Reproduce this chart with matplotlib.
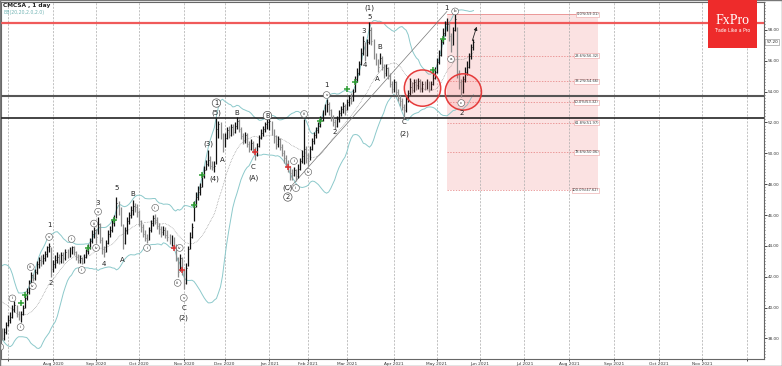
import numpy as np
import pandas as pd
import matplotlib
matplotlib.use("Agg")
import matplotlib.pyplot as plt
from matplotlib.patches import Ellipse, Rectangle
from matplotlib.ticker import MultipleLocator
from matplotlib.transforms import blended_transform_factory

# ---- data (daily bars, CMCSA) ----
first_day = "2020-05-26"
holidays = ["2020-07-03", "2020-09-07", "2020-11-26", "2020-12-25", "2021-01-01",
            "2021-01-18", "2021-02-15", "2021-04-02"]

close = [39.2, 39.5, 39.0, 39.6, 40.1, 40.5, 40.9, 41.6, 42.3, 42.6,
         42.0, 41.4, 39.6, 40.0, 40.3, 40.8, 40.5, 40.2, 39.9, 39.3,
         39.6, 38.9, 38.6, 38.0, 38.4, 38.9, 39.2, 39.4, 39.9, 40.2,
         39.6, 39.3, 39.6, 40.0, 40.6, 41.0, 41.6, 42.1, 41.9, 42.3,
         42.8, 43.1, 43.0, 43.2, 43.5, 43.9, 44.0, 42.5, 42.8, 43.1,
         43.3, 43.0, 43.4, 43.2, 43.6, 43.5, 43.8, 43.9, 43.6, 43.3,
         43.1, 43.2, 42.9, 43.3, 43.7, 43.9, 44.3, 44.8, 45.0, 44.6,
         45.4, 44.4, 43.8, 43.6, 44.2, 44.8, 45.0, 45.5, 45.7, 46.8,
         46.4, 45.6, 44.2, 45.0, 45.6, 46.0, 46.3, 46.6, 46.5, 46.2,
         45.6, 45.2, 44.8, 44.5, 44.4, 45.0, 45.5, 45.8, 45.7, 45.3,
         45.1, 44.9, 45.0, 44.7, 44.6, 44.3, 44.5, 44.0, 43.2, 42.3,
         43.2, 42.4, 41.6, 42.6, 43.8, 44.6, 45.2, 46.5, 47.2, 47.5,
         47.8, 48.5, 48.9, 49.3, 49.6, 49.2, 49.1, 49.2, 51.6, 51.9,
         51.2, 50.5, 51.0, 51.5, 51.2, 51.7, 51.4, 51.8, 52.1, 51.6,
         51.1, 50.8, 51.2, 50.6, 50.3, 50.7, 50.2, 49.9, 50.5, 51.0,
         51.3, 51.6, 51.9, 52.0, 52.1, 51.4, 51.0, 50.6, 50.9, 50.4,
         50.0, 49.7, 49.4, 49.1, 48.7, 48.6, 48.9, 48.5, 49.0, 49.5,
         49.8, 50.3, 49.7, 49.5, 50.3, 50.8, 51.2, 51.5, 51.8, 52.2,
         52.6, 53.0, 53.2, 52.8, 52.3, 52.0, 51.8, 52.2, 52.6, 52.9,
         53.1, 52.8, 53.3, 53.6, 53.4, 54.0, 54.8, 55.2, 55.8, 56.5,
         57.3, 56.4, 57.2, 58.0, 57.3, 56.4, 56.0, 55.6, 56.2, 55.6,
         55.2, 55.5, 55.0, 54.5, 54.2, 54.6, 54.0, 53.6, 53.4, 53.0,
         52.8, 53.5, 53.9, 54.3, 54.1, 54.6, 54.4, 54.7, 54.2, 54.5,
         54.3, 54.6, 54.2, 54.5, 54.9, 55.3, 55.9, 56.4, 57.2, 57.8,
         58.4, 58.4, 57.6, 57.0, 58.0, 58.7, 55.2, 54.6, 54.0, 54.8,
         55.3, 55.6, 56.3, 56.9, 57.2]

high = [39.6, 39.9, 39.7, 39.8, 40.4, 40.8, 41.2, 41.9, 42.6, 42.9,
        42.7, 42.1, 41.0, 40.5, 40.9, 41.1, 41.0, 40.7, 40.4, 40.0,
        39.9, 39.7, 39.1, 38.7, 38.7, 39.1, 39.5, 39.7, 40.2, 40.4,
        40.2, 39.8, 39.8, 40.2, 40.8, 41.3, 41.8, 42.3, 42.2, 42.5,
        43.0, 43.3, 43.4, 43.5, 43.7, 44.0, 44.2, 43.9, 43.1, 43.4,
        43.6, 43.5, 43.6, 43.6, 43.8, 43.8, 43.9, 44.0, 44.0, 43.7,
        43.5, 43.4, 43.3, 43.5, 43.8, 44.1, 44.5, 45.0, 45.2, 45.1,
        45.9, 45.5, 44.6, 44.0, 44.4, 45.0, 45.3, 45.7, 46.0, 47.2,
        46.9, 46.5, 45.4, 45.2, 45.9, 46.2, 46.6, 47.0, 46.8, 46.7,
        46.3, 45.7, 45.4, 45.0, 44.8, 45.2, 45.7, 46.0, 46.1, 45.9,
        45.5, 45.3, 45.3, 45.2, 45.0, 44.8, 44.7, 44.6, 44.1, 43.3,
        43.5, 43.3, 42.5, 42.9, 44.0, 44.9, 45.5, 46.9, 47.5, 47.9,
        48.1, 48.7, 49.2, 49.6, 50.2, 49.8, 49.5, 49.5, 52.3, 52.1,
        52.0, 51.3, 51.3, 51.7, 51.8, 51.9, 51.9, 52.0, 52.35, 52.2,
        51.7, 51.3, 51.4, 51.3, 50.8, 50.9, 50.8, 50.4, 50.7, 51.2,
        51.6, 51.8, 52.0, 52.2, 52.3, 52.1, 51.6, 51.2, 51.1, 51.0,
        50.6, 50.2, 49.9, 49.6, 49.2, 49.0, 49.1, 49.0, 49.3, 49.7,
        50.2, 52.2, 50.5, 50.0, 50.5, 51.0, 51.4, 51.7, 52.0, 52.4,
        52.8, 53.2, 53.5, 53.3, 52.9, 52.5, 52.2, 52.4, 52.8, 53.1,
        53.3, 53.2, 53.5, 53.8, 53.9, 54.2, 55.0, 55.5, 56.0, 56.8,
        57.6, 57.2, 57.4, 58.5, 58.2, 57.4, 56.5, 56.1, 56.5, 56.3,
        55.8, 55.8, 55.6, 55.2, 54.7, 54.8, 54.7, 54.2, 53.8, 53.6,
        53.2, 53.7, 54.1, 54.9, 54.6, 54.8, 54.8, 54.9, 54.8, 54.7,
        54.7, 54.8, 54.7, 54.7, 55.4, 55.6, 56.2, 56.7, 57.4, 58.1,
        58.6, 58.8, 58.5, 57.8, 58.2, 59.01, 58.2, 55.4, 54.8, 55.0,
        55.6, 56.0, 56.5, 57.1, 57.4]

low = [38.8, 39.0, 38.7, 38.9, 39.5, 40.0, 40.4, 40.9, 41.6, 42.0,
       41.8, 41.2, 39.4, 39.3, 39.8, 40.1, 40.2, 39.9, 39.6, 39.1,
       39.0, 38.7, 38.3, 37.9, 37.9, 38.3, 38.8, 39.0, 39.3, 39.7,
       39.4, 39.2, 39.1, 39.5, 40.0, 40.5, 40.9, 41.5, 41.7, 41.8,
       42.2, 42.6, 42.7, 42.8, 43.0, 43.3, 43.6, 42.0, 42.3, 42.6,
       42.9, 42.8, 42.9, 42.9, 43.1, 43.2, 43.3, 43.5, 43.4, 43.1,
       42.9, 42.9, 42.85, 42.9, 43.2, 43.5, 43.8, 44.2, 44.5, 44.2,
       44.8, 44.2, 43.5, 43.3, 43.6, 44.1, 44.6, 44.9, 45.3, 45.8,
       46.0, 45.3, 43.8, 44.1, 44.8, 45.4, 45.8, 46.0, 46.2, 45.9,
       45.3, 44.9, 44.6, 44.3, 44.2, 44.4, 44.9, 45.3, 45.4, 45.1,
       44.8, 44.6, 44.7, 44.5, 44.3, 44.1, 44.0, 43.8, 43.0, 42.0,
       42.4, 42.1, 41.2, 41.5, 42.7, 43.8, 44.5, 45.6, 46.5, 47.0,
       47.3, 47.8, 48.4, 48.9, 49.2, 49.0, 48.9, 48.8, 49.3, 51.0,
       50.9, 50.1, 50.4, 50.9, 51.0, 51.1, 51.2, 51.3, 51.6, 51.4,
       50.9, 50.6, 50.7, 50.4, 50.1, 50.2, 50.0, 49.6, 49.8, 50.4,
       50.9, 51.1, 51.4, 51.6, 51.5, 51.2, 50.7, 50.3, 50.4, 50.2,
       49.8, 49.4, 49.1, 48.8, 48.3, 48.3, 48.5, 48.2, 48.4, 48.9,
       49.4, 49.3, 49.4, 49.2, 49.6, 50.2, 50.6, 51.0, 51.3, 51.7,
       52.1, 52.5, 52.7, 52.5, 52.1, 51.8, 51.6, 51.7, 52.0, 52.4,
       52.6, 52.5, 52.8, 53.1, 53.2, 53.4, 54.0, 54.6, 55.1, 55.7,
       56.4, 56.0, 56.3, 57.1, 57.0, 56.1, 55.7, 55.3, 55.8, 55.4,
       54.9, 55.0, 54.8, 54.3, 53.9, 54.0, 53.8, 53.4, 53.1, 52.8,
       52.3, 52.7, 53.3, 53.8, 53.9, 54.0, 54.1, 54.2, 54.0, 54.0,
       54.1, 54.2, 54.0, 54.1, 54.4, 54.8, 55.2, 55.8, 56.3, 57.1,
       57.6, 57.9, 57.3, 56.6, 57.0, 57.9, 54.9, 54.2, 53.65, 53.9,
       54.6, 55.1, 55.5, 56.1, 56.7]

# wave counts: (date, price, text)
wave_labels = [("2020-07-30", 45.36, "1"), ("2020-07-31", 41.60, "2"),
               ("2020-09-02", 46.78, "3"), ("2020-09-08", 42.83, "4"),
               ("2020-09-16", 47.75, "5"), ("2020-09-21", 43.08, "A"),
               ("2020-09-28", 47.35, "B"), ("2020-11-02", 40.00, "C"),
               ("2020-11-02", 39.33, "(2)"), ("2020-11-18", 50.61, "(3)"),
               ("2020-11-23", 48.34, "(4)"), ("2020-11-24", 52.61, "(5)"),
               ("2020-11-30", 49.57, "A"), ("2020-12-09", 52.61, "B"),
               ("2020-12-21", 49.11, "C"), ("2020-12-21", 48.40, "(A)"),
               ("2021-01-15", 47.75, "(C)"), ("2021-02-12", 54.43, "1"),
               ("2021-02-19", 51.38, "2"), ("2021-03-11", 57.95, "3"),
               ("2021-03-12", 55.73, "4"), ("2021-03-16", 58.84, "5"),
               ("2021-03-16", 59.42, "(1)"), ("2021-03-23", 56.89, "B"),
               ("2021-03-22", 54.82, "A"), ("2021-04-09", 52.00, "C"),
               ("2021-04-09", 51.30, "(2)"), ("2021-05-10", 59.42, "1"),
               ("2021-05-19", 52.61, "2")]
big_circles = [("2020-11-24", 53.26, "1"), ("2021-01-15", 47.17, "2"),
               ("2020-12-31", 52.45, "B")]
small_circles = [("2020-06-25", 37.45, "v"), ("2020-07-06", 40.60, "i"),
                 ("2020-07-10", 38.74, "ii"), ("2020-07-17", 42.63, "iii"),
                 ("2020-07-20", 41.40, "iv"), ("2020-07-30", 44.58, "v"),
                 ("2020-08-14", 44.45, "i"), ("2020-08-21", 42.44, "ii"),
                 ("2020-08-31", 45.45, "iii"), ("2020-09-01", 43.87, "iv"),
                 ("2020-09-02", 46.22, "v"), ("2020-10-07", 43.87, "i"),
                 ("2020-10-13", 46.47, "ii"), ("2020-10-28", 41.60, "iii"),
                 ("2020-10-29", 43.87, "iv"), ("2020-11-02", 40.63, "v"),
                 ("2021-01-21", 49.50, "i"), ("2021-01-22", 47.75, "ii"),
                 ("2021-01-28", 52.55, "iii"), ("2021-02-01", 48.79, "iv"),
                 ("2021-02-12", 53.78, "v"), ("2021-05-12", 56.11, "a"),
                 ("2021-05-14", 59.20, "b"), ("2021-05-19", 53.26, "c")]
green_marks = [("2020-07-10", 40.32), ("2020-07-14", 40.82), ("2020-08-26", 43.87),
               ("2020-09-15", 45.68), ("2020-11-09", 46.65), ("2020-11-13", 48.60),
               ("2021-02-09", 52.10), ("2021-03-01", 54.15), ("2021-03-05", 54.62),
               ("2021-04-29", 55.40), ("2021-05-06", 57.41)]
red_marks = [("2020-10-26", 43.87), ("2020-10-30", 42.44), ("2020-12-22", 50.09),
             ("2021-01-15", 49.11)]

# support / resistance and fibonacci grid
resistance = 58.45
support_1 = 53.72
support_2 = 52.29
fib_levels = [59.01, 56.32, 54.66, 53.32, 51.97, 50.06, 47.62]
fib_labels = ["0.0%(59.01)", "23.6%(56.32)", "38.2%(54.66)", "50.0%(53.32)",
              "61.8%(51.97)", "78.6%(50.06)", "100.0%(47.62)"]
fib_start, fib_end = "2021-05-10", "2021-08-20"
circles = [("2021-04-22", 54.23), ("2021-05-20", 53.98)]
last_price = 57.20

# ---- trading calendar: real sessions for the data, plain weekdays after ----
days = pd.bdate_range(first_day, "2021-12-31")
days = days[~days.isin(pd.to_datetime(holidays))]
data_days = days[:len(close)]
future = pd.bdate_range(data_days[-1] + pd.Timedelta(days=1), "2021-12-31")
dates = data_days.append(future)


def pos(d):
    return float(dates.searchsorted(pd.Timestamp(d)))


x = np.arange(len(close))
close_s = pd.Series(close)
mid = close_s.rolling(20).mean()
sd = close_s.rolling(20).std(ddof=0)

fig = plt.figure(figsize=(7.82, 3.66), dpi=100)
ax = fig.add_axes([1 / 782, 7 / 366, 763 / 782, 357 / 366])
x0 = pos("2020-08-03")
ax.set_xlim(x0 - 25.6, x0 + 348.4)
ax.set_ylim(36.67, 59.81)

# fib box
fx0, fx1 = pos(fib_start), pos(fib_end)
ax.add_patch(Rectangle((fx0, fib_levels[-1]), fx1 - fx0, fib_levels[0] - fib_levels[-1],
                       fc="#fbe2e2", ec="none", zorder=0))
for lv, lb in zip(fib_levels, fib_labels):
    ax.plot([fx0, fx1], [lv, lv], color="#e57b7b", lw=0.5,
            ls="-" if lv == fib_levels[0] else (0, (2, 2)), zorder=1)
    ax.text(fx1 + 0.5, lv, lb, ha="right", va="center", fontsize=2.6, color="#333",
            bbox=dict(boxstyle="square,pad=0.15", fc="white", ec="#e8a0a0", lw=0.4), zorder=6)

# month grid
months = pd.date_range("2020-07-01", "2021-12-01", freq="MS")
mpos = [pos(m) for m in months]
mlab = [m.strftime("%b %Y") for m in months]
mlab[0] = ""
mlab[-1] = ""
ax.set_xticks(mpos, mlab)
ax.grid(axis="x", color="#aaaaaa", lw=0.5, ls=(0, (3, 2)))

# bollinger
ax.plot(x, mid + 2 * sd, color="#8cc9cb", lw=0.7, zorder=2)
ax.plot(x, mid - 2 * sd, color="#8cc9cb", lw=0.7, zorder=2)
ax.plot(x, mid, color="#777777", lw=0.45, ls=(0, (1, 1.5)), zorder=2)

# levels
ax.axhline(resistance, color="#f05a5a", lw=1.6, zorder=3)
ax.axhline(support_1, color="#555555", lw=1.5, zorder=3)
ax.axhline(support_2, color="#111111", lw=1.1, zorder=3)

# wave diagonal
ax.plot([pos("2021-01-15"), pos("2021-05-10")], [47.62, 59.2], color="#777", lw=0.5, zorder=3)

# bars
prev = np.r_[close[0], close[:-1]]
cols = np.where(np.array(close) >= prev, "#111111", "#8a8a8a")
ax.vlines(x, low, high, colors=cols, lw=0.9, zorder=4)
ax.hlines(close, x, x + 0.45, colors=cols, lw=0.6, zorder=4)

# circles of interest
for d, v in circles:
    ax.add_patch(Ellipse((pos(d), v), 17.8, 2.35, fc=(1, 0.3, 0.3, 0.12),
                         ec="#e53a3a", lw=1.1, zorder=5))

# arrow
ax.annotate("", xy=(pos("2021-05-31"), 58.38), xytext=(pos("2021-05-26"), 57.13),
            arrowprops=dict(arrowstyle="-|>", color="#222", lw=0.6, mutation_scale=5), zorder=6)

for d, v in green_marks:
    ax.plot(pos(d), v, "+", color="#2f9e35", ms=4, mew=1.1, zorder=6)
for d, v in red_marks:
    ax.plot(pos(d), v, "+", color="#d33", ms=4, mew=1.1, zorder=6)

for d, v, t in wave_labels:
    ax.text(pos(d), v, t, ha="center", va="center", fontsize=5, color="#222", zorder=7)
for d, v, t in big_circles:
    ax.text(pos(d), v, t, ha="center", va="center", fontsize=4.8, color="#222", zorder=7,
            bbox=dict(boxstyle="circle,pad=0.18", fc="white", ec="#555", lw=0.5))
for d, v, t in small_circles:
    ax.text(pos(d), v, t, ha="center", va="center", fontsize=2.9, color="#222", zorder=7,
            bbox=dict(boxstyle="circle,pad=0.35", fc="white", ec="#555", lw=0.4))

# axes styling
ax.yaxis.tick_right()
ax.yaxis.set_major_locator(MultipleLocator(2))
ax.yaxis.set_minor_locator(MultipleLocator(0.2))
ax.yaxis.set_major_formatter(lambda v, p: f"{v:.2f}")
ax.tick_params(axis="y", which="major", length=2, width=0.5, pad=0.8, labelsize=3, labelcolor="#333")
ax.tick_params(axis="y", which="minor", length=1, width=0.4)
ax.tick_params(axis="x", length=1.5, width=0.5, pad=0.6, labelsize=3.1, labelcolor="#333")
for s in ax.spines.values():
    s.set_color("#666")
    s.set_linewidth(0.8)

tr = blended_transform_factory(ax.transAxes, ax.transData)
ax.text(1.003, last_price, f"{last_price:.2f}", transform=tr, ha="left", va="center",
        fontsize=3, color="#222", clip_on=False,
        bbox=dict(boxstyle="square,pad=0.2", fc="white", ec="#888", lw=0.4))

# header texts
fig.text(3 / 782, 1 - 5 / 366, "CMCSA , 1 day", fontsize=4.2, weight="bold", color="#222", va="center")
fig.text(4 / 782, 1 - 12.7 / 366, "BB(20,20,2.0,2.0)", fontsize=3.3, color="#6fb3b3", va="center")

# logo
fig.add_artist(Rectangle((708 / 782, 1 - 48 / 366), 49 / 782, 48 / 366,
                         transform=fig.transFigure, fc="#ee2b2b", ec="none", zorder=10))
fig.text(732.5 / 782, 1 - 21 / 366, "FxPro", fontsize=10, family="Liberation Serif",
         color="white", ha="center", va="center", zorder=11)
fig.text(732.5 / 782, 1 - 31 / 366, "Trade Like a Pro", fontsize=3.3, color="white",
         ha="center", va="center", zorder=11)

fig.add_artist(Rectangle((0, 0), 1, 1, transform=fig.transFigure, fill=False, ec="#777", lw=1))

fig.savefig("out.png", dpi=100)
